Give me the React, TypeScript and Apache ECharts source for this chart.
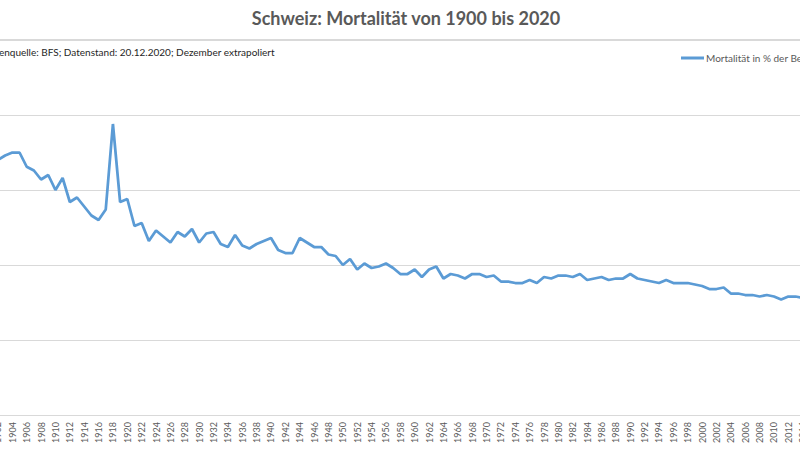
import { useEffect, useRef } from "react";
import * as echarts from "echarts";

const years = [
  "1900", "1901", "1902", "1903", "1904", "1905", "1906", "1907", "1908", "1909",
  "1910", "1911", "1912", "1913", "1914", "1915", "1916", "1917", "1918", "1919",
  "1920", "1921", "1922", "1923", "1924", "1925", "1926", "1927", "1928", "1929",
  "1930", "1931", "1932", "1933", "1934", "1935", "1936", "1937", "1938", "1939",
  "1940", "1941", "1942", "1943", "1944", "1945", "1946", "1947", "1948", "1949",
  "1950", "1951", "1952", "1953", "1954", "1955", "1956", "1957", "1958", "1959",
  "1960", "1961", "1962", "1963", "1964", "1965", "1966", "1967", "1968", "1969",
  "1970", "1971", "1972", "1973", "1974", "1975", "1976", "1977", "1978", "1979",
  "1980", "1981", "1982", "1983", "1984", "1985", "1986", "1987", "1988", "1989",
  "1990", "1991", "1992", "1993", "1994", "1995", "1996", "1997", "1998", "1999",
  "2000", "2001", "2002", "2003", "2004", "2005", "2006", "2007", "2008", "2009",
  "2010", "2011", "2012", "2013", "2014", "2015", "2016", "2017", "2018", "2019",
  "2020",
];

// Mortalität in % der Bevölkerung, pro Jahr
const mortality = [
  1.93, 1.79, 1.7, 1.73, 1.75, 1.75, 1.655, 1.63, 1.57, 1.6,
  1.5, 1.58, 1.42, 1.45, 1.39, 1.33, 1.3, 1.37, 1.94, 1.42,
  1.44, 1.26, 1.28, 1.16, 1.23, 1.19, 1.15, 1.22, 1.19, 1.24,
  1.15, 1.21, 1.22, 1.14, 1.12, 1.2, 1.13, 1.11, 1.14, 1.16,
  1.18, 1.1, 1.08, 1.08, 1.18, 1.15, 1.12, 1.12, 1.07, 1.06,
  1.0, 1.04, 0.97, 1.01, 0.98, 0.99, 1.01, 0.98, 0.94, 0.94,
  0.97, 0.92, 0.97, 0.99, 0.91, 0.94, 0.93, 0.91, 0.94, 0.94,
  0.92, 0.93, 0.89, 0.89, 0.88, 0.88, 0.9, 0.88, 0.92, 0.91,
  0.93, 0.93, 0.92, 0.94, 0.9, 0.91, 0.92, 0.9, 0.91, 0.91,
  0.94, 0.91, 0.9, 0.89, 0.88, 0.9, 0.88, 0.88, 0.88, 0.87,
  0.86, 0.84, 0.84, 0.85, 0.81, 0.81, 0.8, 0.8, 0.79, 0.8,
  0.79, 0.77, 0.79, 0.79, 0.78, 0.81, 0.77, 0.78, 0.77, 0.79,
  0.89,
];

const Y_MAX = 2.5;

const TITLE = "Schweiz: Mortalität von 1900 bis 2020";
const SOURCE = "Datenquelle: BFS; Datenstand: 20.12.2020; Dezember extrapoliert";
const SERIES_NAME = "Mortalität in % der Bevölkerung";

// Das Original ist ein Ausschnitt: das Diagramm ist breiter als das Fenster
const OFFSET = 60;
const CHART_W = 929;

export default function App() {
  const ref = useRef<HTMLDivElement | null>(null);

  useEffect(() => {
    if (!ref.current) return;
    const chart = echarts.init(ref.current, undefined, { renderer: "svg" });
    chart.setOption({
      animation: false,
      backgroundColor: "#ffffff",
      textStyle: { fontFamily: "Lato" },
      title: {
        text: TITLE,
        left: 401 + OFFSET,
        top: 4,
        textAlign: "center",
        textStyle: { fontFamily: "Lato", fontSize: 18, fontWeight: "bold", color: "#595959" },
      },
      graphic: [
        {
          type: "text",
          x: OFFSET - 17,
          y: 52,
          style: {
            text: SOURCE,
            fill: "#262626",
            font: "10px Lato",
            verticalAlign: "middle",
          },
        },
      ],
      legend: {
        left: 676 + OFFSET,
        top: 48,
        icon: "rect",
        itemWidth: 23,
        itemHeight: 3,
        textStyle: { fontFamily: "Lato", fontSize: 10, color: "#595959", padding: [0, 0, 0, -3] },
        data: [SERIES_NAME],
      },
      grid: { left: 40, top: 40, width: 869.4, height: 375 },
      xAxis: {
        type: "category",
        data: years,
        boundaryGap: true,
        axisLine: { lineStyle: { color: "#d9d9d9" } },
        axisTick: { show: false },
        axisLabel: {
          interval: 1,
          rotate: 90,
          fontSize: 9,
          color: "#595959",
          margin: 7,
        },
      },
      yAxis: {
        type: "value",
        min: 0,
        max: Y_MAX,
        interval: 0.5,
        axisLabel: { show: false },
        axisLine: { show: false },
        axisTick: { show: false },
        splitLine: {
          show: true,
          lineStyle: { color: "#d9d9d9", width: 1 },
        },
      },
      series: [
        {
          name: SERIES_NAME,
          type: "line",
          data: mortality,
          symbol: "none",
          lineStyle: { color: "#5b9bd5", width: 2.75 },
          itemStyle: { color: "#5b9bd5" },
          z: 3,
          // oberste Gitterlinie (2,5 %) deutlich sichtbar machen
          markLine: {
            silent: true,
            symbol: "none",
            label: { show: false },
            lineStyle: { color: "#d9d9d9", width: 2, type: "solid" },
            data: [{ yAxis: Y_MAX }],
          },
        },
      ],
    });
    return () => chart.dispose();
  }, []);

  return (
    <div
      style={{
        position: "fixed",
        left: 0,
        top: 0,
        width: 800,
        height: 450,
        overflow: "hidden",
        background: "#ffffff",
      }}
    >
      <div
        ref={ref}
        style={{ position: "absolute", left: -OFFSET, top: 0, width: CHART_W, height: 450 }}
      />
    </div>
  );
}
